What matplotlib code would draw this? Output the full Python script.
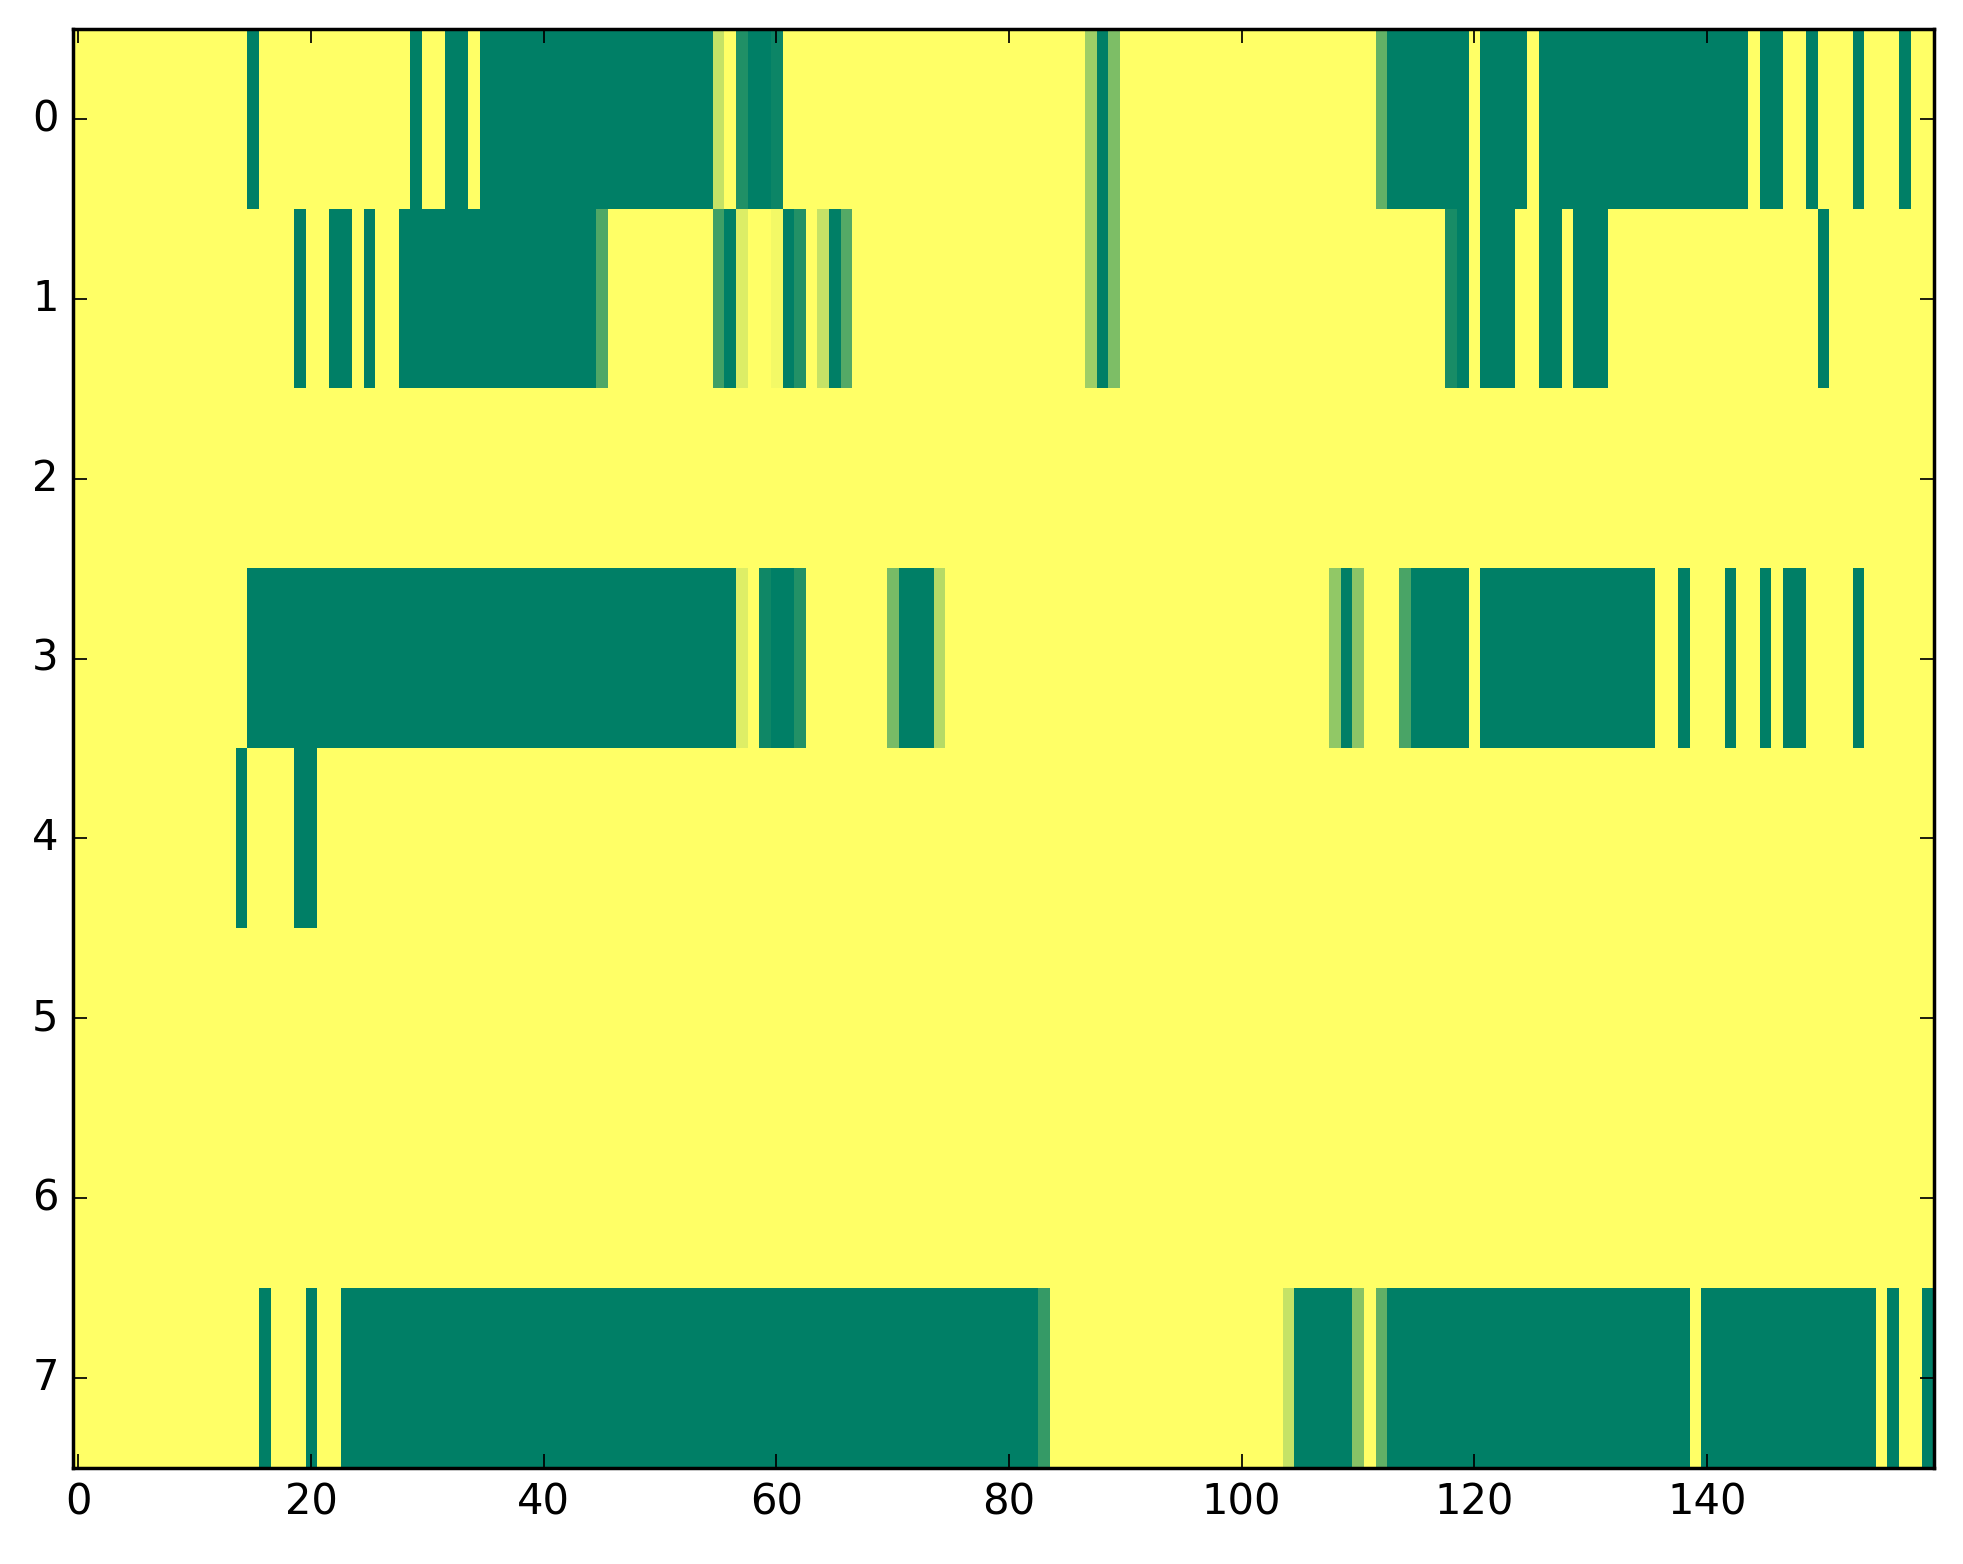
import numpy as np
import matplotlib
matplotlib.use('Agg')
import matplotlib.pyplot as plt

# one list of 160 cell values per row (0 = yellow, 1 = dark green)
row0 = [0, 0, 0, 0, 0, 0, 0, 0, 0, 0, 0, 0, 0, 0, 0, 1, 0, 0, 0, 0,
        0, 0, 0, 0, 0, 0, 0, 0, 0, 1, 0, 0, 1, 1, 0, 1, 1, 1, 1, 1,
        1, 1, 1, 1, 1, 1, 1, 1, 1, 1, 1, 1, 1, 1, 1, .23, 0, .87, 1, 1,
        .95, 0, 0, 0, 0, 0, 0, 0, 0, 0, 0, 0, 0, 0, 0, 0, 0, 0, 0, 0,
        0, 0, 0, 0, 0, 0, 0, .38, 1, .51, 0, 0, 0, 0, 0, 0, 0, 0, 0, 0,
        0, 0, 0, 0, 0, 0, 0, 0, 0, 0, 0, 0, .61, 1, 1, 1, 1, 1, 1, 1,
        0, 1, 1, 1, 1, 0, 1, 1, 1, 1, 1, 1, 1, 1, 1, 1, 1, 1, 1, 1,
        1, 1, 1, 1, 0, 1, 1, 0, 0, 1, 0, 0, 0, 1, 0, 0, 0, 1, 0, 0]
row1 = [0, 0, 0, 0, 0, 0, 0, 0, 0, 0, 0, 0, 0, 0, 0, 0, 0, 0, 0, 1,
        0, 0, 1, 1, 0, 1, 0, 0, 1, 1, 1, 1, 1, 1, 1, 1, 1, 1, 1, 1,
        1, 1, 1, 1, 1, .69, 0, 0, 0, 0, 0, 0, 0, 0, 0, .75, 1, .14, 0, 0,
        .05, 1, .86, 0, .23, 1, .67, 0, 0, 0, 0, 0, 0, 0, 0, 0, 0, 0, 0, 0,
        0, 0, 0, 0, 0, 0, 0, .38, 1, .51, 0, 0, 0, 0, 0, 0, 0, 0, 0, 0,
        0, 0, 0, 0, 0, 0, 0, 0, 0, 0, 0, 0, 0, 0, 0, 0, 0, 0, .9, 1,
        0, 1, 1, 1, 0, 0, 1, 1, 0, 1, 1, 1, 0, 0, 0, 0, 0, 0, 0, 0,
        0, 0, 0, 0, 0, 0, 0, 0, 0, 0, 1, 0, 0, 0, 0, 0, 0, 0, 0, 0]
row2 = [0] * 160
row3 = [0, 0, 0, 0, 0, 0, 0, 0, 0, 0, 0, 0, 0, 0, 0, 1, 1, 1, 1, 1,
        1, 1, 1, 1, 1, 1, 1, 1, 1, 1, 1, 1, 1, 1, 1, 1, 1, 1, 1, 1,
        1, 1, 1, 1, 1, 1, 1, 1, 1, 1, 1, 1, 1, 1, 1, 1, 1, .13, 0, .94,
        1, 1, .86, 0, 0, 0, 0, 0, 0, 0, .53, 1, 1, 1, .29, 0, 0, 0, 0, 0,
        0, 0, 0, 0, 0, 0, 0, 0, 0, 0, 0, 0, 0, 0, 0, 0, 0, 0, 0, 0,
        0, 0, 0, 0, 0, 0, 0, 0, .43, 1, .45, 0, 0, 0, .71, 1, 1, 1, 1, 1,
        0, 1, 1, 1, 1, 1, 1, 1, 1, 1, 1, 1, 1, 1, 1, 1, 0, 0, 1, 0,
        0, 0, 1, 0, 0, 1, 0, 1, 1, 0, 0, 0, 0, 1, 0, 0, 0, 0, 0, 0]
row4 = [0, 0, 0, 0, 0, 0, 0, 0, 0, 0, 0, 0, 0, 0, 1, 0, 0, 0, 0, 1,
        1, 0, 0, 0, 0, 0, 0, 0, 0, 0, 0, 0, 0, 0, 0, 0, 0, 0, 0, 0] + [0] * 120
row5 = [0] * 160
row6 = [0] * 160
row7 = [0, 0, 0, 0, 0, 0, 0, 0, 0, 0, 0, 0, 0, 0, 0, 0, 1, 0, 0, 0,
        1, 0, 0, 1, 1, 1, 1, 1, 1, 1, 1, 1, 1, 1, 1, 1, 1, 1, 1, 1,
        1, 1, 1, 1, 1, 1, 1, 1, 1, 1, 1, 1, 1, 1, 1, 1, 1, 1, 1, 1,
        1, 1, 1, 1, 1, 1, 1, 1, 1, 1, 1, 1, 1, 1, 1, 1, 1, 1, 1, 1,
        1, 1, 1, .79, 0, 0, 0, 0, 0, 0, 0, 0, 0, 0, 0, 0, 0, 0, 0, 0,
        0, 0, 0, 0, .23, 1, 1, 1, 1, 1, .47, 0, .62, 1, 1, 1, 1, 1, 1, 1,
        1, 1, 1, 1, 1, 1, 1, 1, 1, 1, 1, 1, 1, 1, 1, 1, 1, 1, 1, 0,
        1, 1, 1, 1, 1, 1, 1, 1, 1, 1, 1, 1, 1, 1, 1, 0, 1, 0, 0, 1]

xticks = [0, 20, 40, 60, 80, 100, 120, 140]
yticks = [0, 1, 2, 3, 4, 5, 6, 7]

plt.style.use('classic')

data = np.array([row0, row1, row2, row3, row4, row5, row6, row7], dtype=float)

fig = plt.figure(figsize=(1963 / 250, 1564 / 250), dpi=250, facecolor='white')
ax = fig.add_axes([0.037, 0.0614, 0.948, 0.920])
ax.imshow(data, cmap='summer_r', vmin=0, vmax=1, aspect='auto', interpolation='nearest')
ax.set_xticks(xticks)
ax.set_yticks(yticks)
ax.set_xlim(-0.5, 159.5)
ax.set_ylim(7.5, -0.5)

fig.savefig('out.png', dpi=250, facecolor='white')
